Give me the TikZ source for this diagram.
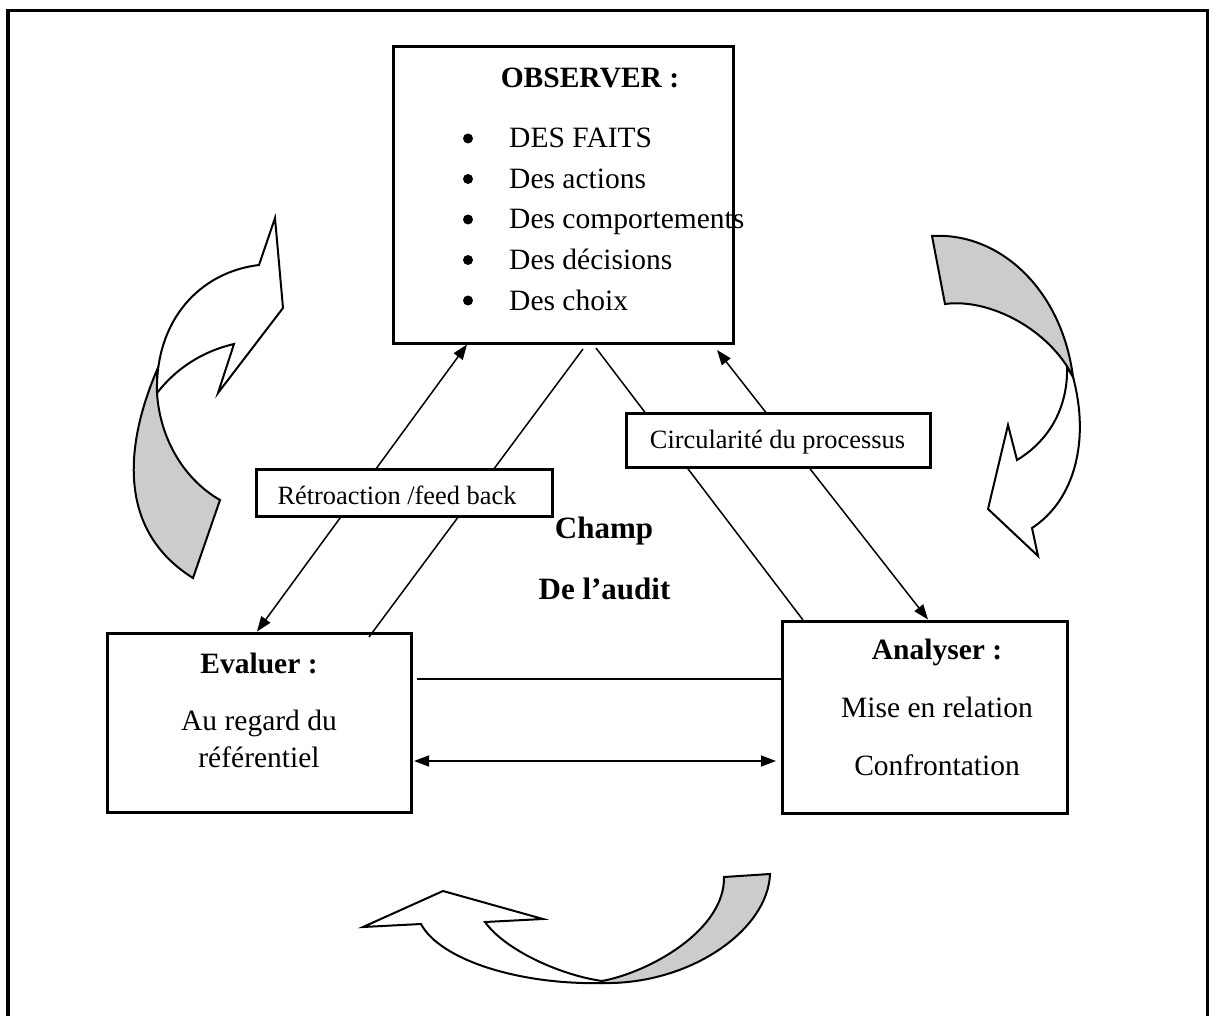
\documentclass[tikz,border=0pt]{standalone}
\usepackage{fontspec}
\setmainfont{Liberation Serif}
\usetikzlibrary{arrows.meta,calc}
\definecolor{bandgray}{RGB}{204,204,204}
\begin{document}
\begin{tikzpicture}[x=1pt,y=-1pt,
 box/.style={draw,line width=3pt,fill=white,inner sep=0pt},
 main/.style={font=\fontsize{29.5}{34}\selectfont,inner sep=0pt,anchor=base},
 bold/.style={font=\fontsize{29.5}{34}\selectfont\bfseries,inner sep=0pt,anchor=base},
 big/.style={font=\fontsize{31}{36}\selectfont\bfseries,inner sep=0pt,anchor=base},
 lab/.style={font=\fontsize{26.4}{30}\selectfont,inner sep=0pt,anchor=base},
 conn/.style={line width=1.5pt},
 tips/.style={{Triangle[length=15pt,width=11pt]}-{Triangle[length=15pt,width=11pt]}},
 band/.style={draw,line width=2pt,line join=miter},
 dot/.style={circle,fill=black,inner sep=0pt,minimum size=10pt}]
\useasboundingbox (0,0) rectangle (1209,1016);
% frame
\draw[line width=3.5pt,line join=miter] (8,1020) -- (8,10.5) -- (1207.5,10.5) -- (1207.5,1020);

% main boxes
\node[box,minimum width=340pt,minimum height=296pt] (obs) at (563,195) {};
\node[box,minimum width=304pt,minimum height=179pt] (eva) at (259,722.5) {};
\node[box,minimum width=285pt,minimum height=192pt] (ana) at (924.5,717) {};

% connectors
\draw[conn,tips] ([xshift=151.5pt]eva.north west) -- ([xshift=75.5pt]obs.south west);
\draw[conn] ([xshift=191.5pt,yshift=-4.5pt]obs.south west) -- ([xshift=263.5pt,yshift=-5.5pt]eva.north west);
\draw[conn] ([xshift=204.5pt,yshift=-3.5pt]obs.south west) -- ([xshift=22.5pt,yshift=-0.5pt]ana.north west);
\draw[conn,tips] ([xshift=325.5pt,yshift=-5.5pt]obs.south west) -- ([xshift=147.5pt]ana.north west);
\coordinate (h1) at ([xshift=4.5pt,yshift=-47.5pt]eva.north east);
\draw[conn] (h1) -- (h1 -| ana.west);
\draw[conn,tips] ([xshift=1.5pt,yshift=-129.5pt]eva.north east) -- ([xshift=-4.5pt,yshift=-141.5pt]ana.north west);

% label boxes
\node[box,minimum width=296pt,minimum height=47pt] (retro) at (404,492.5) {};
\node[box,minimum width=304pt,minimum height=54pt] (circ) at (778,440) {};
\node[lab] (retroT) at (397,504) {Rétroaction /feed back};
\node[lab] (circT) at (777.5,448) {Circularité du processus};

% observer text
\node[bold] (obsT) at (590,88) {OBSERVER :};
\node[dot] (b1) at (468,138.5) {};
\node[dot] (b2) at (468,179) {};
\node[dot] (b3) at (468,219.5) {};
\node[dot] (b4) at (468,260) {};
\node[dot] (b5) at (468,300.5) {};
\node[main,anchor=base west] (o1) at (509,148) {DES FAITS};
\node[main,anchor=base west] (o2) at (509,188.5) {Des actions};
\node[main,anchor=base west] (o3) at (509,229) {Des comportements};
\node[main,anchor=base west] (o4) at (509,269.5) {Des décisions};
\node[main,anchor=base west] (o5) at (509,310) {Des choix};

% evaluer text
\node[bold] (evaT) at (259,673) {Evaluer :};
\node[main] (eva1) at (259,730) {Au regard du};
\node[main] (eva2) at (259,767) {référentiel};

% analyser text
\node[bold] (anaT) at (937,659) {Analyser :};
\node[main] (ana1) at (937,717) {Mise en relation};
\node[main] (ana2) at (937,775) {Confrontation};

% centre text
\node[big] (ch1) at (604,538) {Champ};
\node[big] (ch2) at (604.5,599) {De l’audit};

% left curved arrow
\draw[band,fill=bandgray] (157,370) .. controls (140,410) and (100,520) .. (193,578) -- (220,500) .. controls (185,480) and (160,440) .. (157,393) -- cycle;
\draw[band,fill=white] (157,393) .. controls (155,320) and (200,272) .. (259,265) -- (275,218) -- (283,308) -- (218,393) -- (234,344) .. controls (200,352) and (175,370) .. (157,393) -- cycle;

% right curved arrow
\draw[band,fill=bandgray] (932,236) -- (945,304) .. controls (990,298) and (1050,330) .. (1073,377) .. controls (1062,290) and (1000,232) .. (932,236) -- cycle;
\draw[band,fill=white] (1073,377) .. controls (1090,440) and (1075,500) .. (1032,528) -- (1038,556) -- (988,509) -- (1008,425) -- (1017,460) .. controls (1055,437) and (1068,400) .. (1067,367) -- cycle;

% bottom curved arrow
\draw[band,fill=bandgray] (602,981) .. controls (650,972) and (725,930) .. (724,877) -- (770,874) .. controls (768,930) and (690,985) .. (602,983) -- cycle;
\draw[band,fill=white] (602,983) .. controls (520,985) and (440,960) .. (421,924) -- (363,927) -- (443,891) -- (543,919) -- (485,922) .. controls (505,950) and (560,975) .. (602,981) -- cycle;
\end{tikzpicture}
\end{document}
